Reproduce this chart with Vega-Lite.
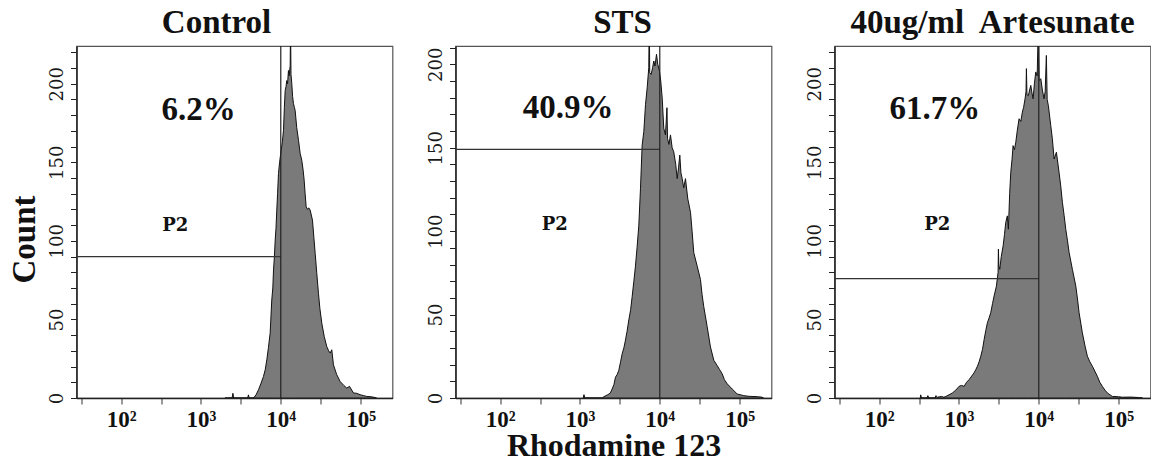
{
  "$schema": "https://vega.github.io/schema/vega-lite/v6.json",
  "padding": {"left": 6.5, "top": 6, "right": 0, "bottom": 0},
  "background": "white",
  "datasets": {
    "hist": [
      {"panel": "Control", "log_intensity": 3.30, "count": 0},
      {"panel": "Control", "log_intensity": 3.39, "count": 0},
      {"panel": "Control", "log_intensity": 3.40, "count": 3},
      {"panel": "Control", "log_intensity": 3.41, "count": 0},
      {"panel": "Control", "log_intensity": 3.585, "count": 0},
      {"panel": "Control", "log_intensity": 3.595, "count": 2},
      {"panel": "Control", "log_intensity": 3.605, "count": 0},
      {"panel": "Control", "log_intensity": 3.658, "count": 0},
      {"panel": "Control", "log_intensity": 3.69, "count": 2},
      {"panel": "Control", "log_intensity": 3.721, "count": 5.3},
      {"panel": "Control", "log_intensity": 3.75, "count": 9},
      {"panel": "Control", "log_intensity": 3.783, "count": 13.7},
      {"panel": "Control", "log_intensity": 3.805, "count": 18},
      {"panel": "Control", "log_intensity": 3.825, "count": 24.3},
      {"panel": "Control", "log_intensity": 3.845, "count": 32},
      {"panel": "Control", "log_intensity": 3.867, "count": 41.3},
      {"panel": "Control", "log_intensity": 3.887, "count": 62.4},
      {"panel": "Control", "log_intensity": 3.9, "count": 70},
      {"panel": "Control", "log_intensity": 3.909, "count": 81.5},
      {"panel": "Control", "log_intensity": 3.92, "count": 90},
      {"panel": "Control", "log_intensity": 3.93, "count": 100.5},
      {"panel": "Control", "log_intensity": 3.94, "count": 108},
      {"panel": "Control", "log_intensity": 3.95, "count": 119.6},
      {"panel": "Control", "log_intensity": 3.96, "count": 130},
      {"panel": "Control", "log_intensity": 3.971, "count": 142.9},
      {"panel": "Control", "log_intensity": 3.985, "count": 150},
      {"panel": "Control", "log_intensity": 4.005, "count": 157.7},
      {"panel": "Control", "log_intensity": 4.02, "count": 163},
      {"panel": "Control", "log_intensity": 4.034, "count": 170.3},
      {"panel": "Control", "log_intensity": 4.045, "count": 185},
      {"panel": "Control", "log_intensity": 4.055, "count": 195.7},
      {"panel": "Control", "log_intensity": 4.065, "count": 198},
      {"panel": "Control", "log_intensity": 4.075, "count": 202},
      {"panel": "Control", "log_intensity": 4.085, "count": 200},
      {"panel": "Control", "log_intensity": 4.096, "count": 208.4},
      {"panel": "Control", "log_intensity": 4.105, "count": 205},
      {"panel": "Control", "log_intensity": 4.118, "count": 211.6},
      {"panel": "Control", "log_intensity": 4.122, "count": 240},
      {"panel": "Control", "log_intensity": 4.128, "count": 206},
      {"panel": "Control", "log_intensity": 4.138, "count": 200},
      {"panel": "Control", "log_intensity": 4.148, "count": 192},
      {"panel": "Control", "log_intensity": 4.159, "count": 187.3},
      {"panel": "Control", "log_intensity": 4.17, "count": 185},
      {"panel": "Control", "log_intensity": 4.18, "count": 183},
      {"panel": "Control", "log_intensity": 4.2, "count": 172},
      {"panel": "Control", "log_intensity": 4.222, "count": 164},
      {"panel": "Control", "log_intensity": 4.243, "count": 155.6},
      {"panel": "Control", "log_intensity": 4.263, "count": 151.3},
      {"panel": "Control", "log_intensity": 4.28, "count": 145},
      {"panel": "Control", "log_intensity": 4.293, "count": 138.6},
      {"panel": "Control", "log_intensity": 4.305, "count": 130},
      {"panel": "Control", "log_intensity": 4.318, "count": 121.7},
      {"panel": "Control", "log_intensity": 4.335, "count": 120},
      {"panel": "Control", "log_intensity": 4.35, "count": 121},
      {"panel": "Control", "log_intensity": 4.368, "count": 119.6},
      {"panel": "Control", "log_intensity": 4.397, "count": 113.2},
      {"panel": "Control", "log_intensity": 4.415, "count": 102},
      {"panel": "Control", "log_intensity": 4.431, "count": 92},
      {"panel": "Control", "log_intensity": 4.45, "count": 80},
      {"panel": "Control", "log_intensity": 4.472, "count": 66.7},
      {"panel": "Control", "log_intensity": 4.49, "count": 57},
      {"panel": "Control", "log_intensity": 4.514, "count": 47.6},
      {"panel": "Control", "log_intensity": 4.545, "count": 39},
      {"panel": "Control", "log_intensity": 4.576, "count": 32.8},
      {"panel": "Control", "log_intensity": 4.6, "count": 30},
      {"panel": "Control", "log_intensity": 4.619, "count": 28.6},
      {"panel": "Control", "log_intensity": 4.639, "count": 30.7},
      {"panel": "Control", "log_intensity": 4.66, "count": 21.1},
      {"panel": "Control", "log_intensity": 4.7, "count": 15},
      {"panel": "Control", "log_intensity": 4.744, "count": 10.5},
      {"panel": "Control", "log_intensity": 4.79, "count": 8},
      {"panel": "Control", "log_intensity": 4.827, "count": 6.3},
      {"panel": "Control", "log_intensity": 4.861, "count": 7.4},
      {"panel": "Control", "log_intensity": 4.911, "count": 3.2},
      {"panel": "Control", "log_intensity": 4.95, "count": 3},
      {"panel": "Control", "log_intensity": 4.995, "count": 2.1},
      {"panel": "Control", "log_intensity": 5.04, "count": 1.5},
      {"panel": "Control", "log_intensity": 5.078, "count": 1},
      {"panel": "Control", "log_intensity": 5.13, "count": 0.8},
      {"panel": "Control", "log_intensity": 5.183, "count": 0.3},
      {"panel": "Control", "log_intensity": 5.2, "count": 0},

      {"panel": "STS", "log_intensity": 3.04, "count": 0},
      {"panel": "STS", "log_intensity": 3.05, "count": 2},
      {"panel": "STS", "log_intensity": 3.06, "count": 0},
      {"panel": "STS", "log_intensity": 3.278, "count": 0},
      {"panel": "STS", "log_intensity": 3.3, "count": 0.8},
      {"panel": "STS", "log_intensity": 3.35, "count": 2},
      {"panel": "STS", "log_intensity": 3.38, "count": 3},
      {"panel": "STS", "log_intensity": 3.403, "count": 5.4},
      {"panel": "STS", "log_intensity": 3.425, "count": 8},
      {"panel": "STS", "log_intensity": 3.445, "count": 12.5},
      {"panel": "STS", "log_intensity": 3.465, "count": 14},
      {"panel": "STS", "log_intensity": 3.486, "count": 16.5},
      {"panel": "STS", "log_intensity": 3.51, "count": 22},
      {"panel": "STS", "log_intensity": 3.529, "count": 26.6},
      {"panel": "STS", "log_intensity": 3.55, "count": 30},
      {"panel": "STS", "log_intensity": 3.57, "count": 34.7},
      {"panel": "STS", "log_intensity": 3.59, "count": 40},
      {"panel": "STS", "log_intensity": 3.612, "count": 46.8},
      {"panel": "STS", "log_intensity": 3.635, "count": 53},
      {"panel": "STS", "log_intensity": 3.654, "count": 60.9},
      {"panel": "STS", "log_intensity": 3.675, "count": 70},
      {"panel": "STS", "log_intensity": 3.695, "count": 79},
      {"panel": "STS", "log_intensity": 3.715, "count": 90},
      {"panel": "STS", "log_intensity": 3.737, "count": 103.2},
      {"panel": "STS", "log_intensity": 3.758, "count": 125.4},
      {"panel": "STS", "log_intensity": 3.779, "count": 151.6},
      {"panel": "STS", "log_intensity": 3.8, "count": 159.7},
      {"panel": "STS", "log_intensity": 3.821, "count": 175.8},
      {"panel": "STS", "log_intensity": 3.842, "count": 185.9},
      {"panel": "STS", "log_intensity": 3.862, "count": 198},
      {"panel": "STS", "log_intensity": 3.868, "count": 228},
      {"panel": "STS", "log_intensity": 3.874, "count": 195},
      {"panel": "STS", "log_intensity": 3.892, "count": 194},
      {"panel": "STS", "log_intensity": 3.91, "count": 198},
      {"panel": "STS", "log_intensity": 3.925, "count": 202},
      {"panel": "STS", "log_intensity": 3.94, "count": 199},
      {"panel": "STS", "log_intensity": 3.959, "count": 206},
      {"panel": "STS", "log_intensity": 3.975, "count": 200},
      {"panel": "STS", "log_intensity": 3.996, "count": 196},
      {"panel": "STS", "log_intensity": 4.012, "count": 190},
      {"panel": "STS", "log_intensity": 4.03, "count": 179.9},
      {"panel": "STS", "log_intensity": 4.05, "count": 161.7},
      {"panel": "STS", "log_intensity": 4.071, "count": 157.7},
      {"panel": "STS", "log_intensity": 4.09, "count": 174},
      {"panel": "STS", "log_intensity": 4.097, "count": 155.6},
      {"panel": "STS", "log_intensity": 4.115, "count": 152},
      {"panel": "STS", "log_intensity": 4.134, "count": 157.7},
      {"panel": "STS", "log_intensity": 4.155, "count": 150},
      {"panel": "STS", "log_intensity": 4.175, "count": 147.6},
      {"panel": "STS", "log_intensity": 4.2, "count": 140},
      {"panel": "STS", "log_intensity": 4.218, "count": 131.5},
      {"panel": "STS", "log_intensity": 4.235, "count": 138},
      {"panel": "STS", "log_intensity": 4.251, "count": 145.6},
      {"panel": "STS", "log_intensity": 4.265, "count": 135},
      {"panel": "STS", "log_intensity": 4.281, "count": 131.5},
      {"panel": "STS", "log_intensity": 4.3, "count": 126},
      {"panel": "STS", "log_intensity": 4.322, "count": 131.5},
      {"panel": "STS", "log_intensity": 4.351, "count": 119.4},
      {"panel": "STS", "log_intensity": 4.385, "count": 111.3},
      {"panel": "STS", "log_intensity": 4.405, "count": 100},
      {"panel": "STS", "log_intensity": 4.426, "count": 87.1},
      {"panel": "STS", "log_intensity": 4.469, "count": 79},
      {"panel": "STS", "log_intensity": 4.51, "count": 71},
      {"panel": "STS", "log_intensity": 4.53, "count": 62},
      {"panel": "STS", "log_intensity": 4.551, "count": 54.8},
      {"panel": "STS", "log_intensity": 4.594, "count": 42.7},
      {"panel": "STS", "log_intensity": 4.635, "count": 30.6},
      {"panel": "STS", "log_intensity": 4.677, "count": 22.6},
      {"panel": "STS", "log_intensity": 4.719, "count": 19.5},
      {"panel": "STS", "log_intensity": 4.75, "count": 17},
      {"panel": "STS", "log_intensity": 4.782, "count": 14.5},
      {"panel": "STS", "log_intensity": 4.81, "count": 11},
      {"panel": "STS", "log_intensity": 4.845, "count": 8.5},
      {"panel": "STS", "log_intensity": 4.907, "count": 5.4},
      {"panel": "STS", "log_intensity": 4.97, "count": 2.4},
      {"panel": "STS", "log_intensity": 5.053, "count": 1.4},
      {"panel": "STS", "log_intensity": 5.12, "count": 1},
      {"panel": "STS", "log_intensity": 5.22, "count": 0.8},
      {"panel": "STS", "log_intensity": 5.28, "count": 0.5},
      {"panel": "STS", "log_intensity": 5.3, "count": 0},

      {"panel": "Artesunate", "log_intensity": 2.515, "count": 0},
      {"panel": "Artesunate", "log_intensity": 2.52, "count": 2},
      {"panel": "Artesunate", "log_intensity": 2.53, "count": 0},
      {"panel": "Artesunate", "log_intensity": 2.6, "count": 0},
      {"panel": "Artesunate", "log_intensity": 2.61, "count": 1.5},
      {"panel": "Artesunate", "log_intensity": 2.62, "count": 0},
      {"panel": "Artesunate", "log_intensity": 2.7, "count": 0},
      {"panel": "Artesunate", "log_intensity": 2.71, "count": 1.5},
      {"panel": "Artesunate", "log_intensity": 2.73, "count": 0.5},
      {"panel": "Artesunate", "log_intensity": 2.78, "count": 1},
      {"panel": "Artesunate", "log_intensity": 2.81, "count": 0.5},
      {"panel": "Artesunate", "log_intensity": 2.835, "count": 1},
      {"panel": "Artesunate", "log_intensity": 2.875, "count": 2},
      {"panel": "Artesunate", "log_intensity": 2.917, "count": 3.2},
      {"panel": "Artesunate", "log_intensity": 2.96, "count": 5},
      {"panel": "Artesunate", "log_intensity": 3.001, "count": 7.4},
      {"panel": "Artesunate", "log_intensity": 3.03, "count": 8},
      {"panel": "Artesunate", "log_intensity": 3.064, "count": 7.4},
      {"panel": "Artesunate", "log_intensity": 3.095, "count": 10},
      {"panel": "Artesunate", "log_intensity": 3.127, "count": 11.7},
      {"panel": "Artesunate", "log_intensity": 3.16, "count": 14},
      {"panel": "Artesunate", "log_intensity": 3.189, "count": 16},
      {"panel": "Artesunate", "log_intensity": 3.21, "count": 18},
      {"panel": "Artesunate", "log_intensity": 3.231, "count": 20.2},
      {"panel": "Artesunate", "log_intensity": 3.252, "count": 23},
      {"panel": "Artesunate", "log_intensity": 3.273, "count": 26.6},
      {"panel": "Artesunate", "log_intensity": 3.295, "count": 31},
      {"panel": "Artesunate", "log_intensity": 3.315, "count": 37.2},
      {"panel": "Artesunate", "log_intensity": 3.336, "count": 43},
      {"panel": "Artesunate", "log_intensity": 3.356, "count": 47.9},
      {"panel": "Artesunate", "log_intensity": 3.378, "count": 51},
      {"panel": "Artesunate", "log_intensity": 3.398, "count": 54.3},
      {"panel": "Artesunate", "log_intensity": 3.42, "count": 60},
      {"panel": "Artesunate", "log_intensity": 3.44, "count": 64.9},
      {"panel": "Artesunate", "log_intensity": 3.469, "count": 71.2},
      {"panel": "Artesunate", "log_intensity": 3.49, "count": 80},
      {"panel": "Artesunate", "log_intensity": 3.494, "count": 94.7},
      {"panel": "Artesunate", "log_intensity": 3.5, "count": 84},
      {"panel": "Artesunate", "log_intensity": 3.511, "count": 81.9},
      {"panel": "Artesunate", "log_intensity": 3.53, "count": 90},
      {"panel": "Artesunate", "log_intensity": 3.553, "count": 96.8},
      {"panel": "Artesunate", "log_intensity": 3.57, "count": 104},
      {"panel": "Artesunate", "log_intensity": 3.586, "count": 111.7},
      {"panel": "Artesunate", "log_intensity": 3.606, "count": 115.9},
      {"panel": "Artesunate", "log_intensity": 3.619, "count": 107.4},
      {"panel": "Artesunate", "log_intensity": 3.635, "count": 130},
      {"panel": "Artesunate", "log_intensity": 3.649, "count": 143.6},
      {"panel": "Artesunate", "log_intensity": 3.665, "count": 152},
      {"panel": "Artesunate", "log_intensity": 3.678, "count": 160.6},
      {"panel": "Artesunate", "log_intensity": 3.695, "count": 158},
      {"panel": "Artesunate", "log_intensity": 3.712, "count": 162.8},
      {"panel": "Artesunate", "log_intensity": 3.73, "count": 170},
      {"panel": "Artesunate", "log_intensity": 3.753, "count": 177.7},
      {"panel": "Artesunate", "log_intensity": 3.775, "count": 176},
      {"panel": "Artesunate", "log_intensity": 3.794, "count": 181.9},
      {"panel": "Artesunate", "log_intensity": 3.81, "count": 185},
      {"panel": "Artesunate", "log_intensity": 3.828, "count": 190.4},
      {"panel": "Artesunate", "log_intensity": 3.84, "count": 195},
      {"panel": "Artesunate", "log_intensity": 3.845, "count": 209.6},
      {"panel": "Artesunate", "log_intensity": 3.852, "count": 193},
      {"panel": "Artesunate", "log_intensity": 3.87, "count": 192.5},
      {"panel": "Artesunate", "log_intensity": 3.885, "count": 196},
      {"panel": "Artesunate", "log_intensity": 3.9, "count": 198.9},
      {"panel": "Artesunate", "log_intensity": 3.915, "count": 194},
      {"panel": "Artesunate", "log_intensity": 3.929, "count": 190.4},
      {"panel": "Artesunate", "log_intensity": 3.945, "count": 200},
      {"panel": "Artesunate", "log_intensity": 3.962, "count": 207.5},
      {"panel": "Artesunate", "log_intensity": 3.98, "count": 205},
      {"panel": "Artesunate", "log_intensity": 3.995, "count": 240},
      {"panel": "Artesunate", "log_intensity": 4.005, "count": 202},
      {"panel": "Artesunate", "log_intensity": 4.025, "count": 203.2},
      {"panel": "Artesunate", "log_intensity": 4.045, "count": 196},
      {"panel": "Artesunate", "log_intensity": 4.066, "count": 190.4},
      {"panel": "Artesunate", "log_intensity": 4.08, "count": 195},
      {"panel": "Artesunate", "log_intensity": 4.095, "count": 218},
      {"panel": "Artesunate", "log_intensity": 4.105, "count": 190},
      {"panel": "Artesunate", "log_intensity": 4.12, "count": 186.1},
      {"panel": "Artesunate", "log_intensity": 4.15, "count": 173.4},
      {"panel": "Artesunate", "log_intensity": 4.17, "count": 165},
      {"panel": "Artesunate", "log_intensity": 4.192, "count": 152.1},
      {"panel": "Artesunate", "log_intensity": 4.221, "count": 156.4},
      {"panel": "Artesunate", "log_intensity": 4.254, "count": 143.6},
      {"panel": "Artesunate", "log_intensity": 4.275, "count": 135},
      {"panel": "Artesunate", "log_intensity": 4.296, "count": 124.5},
      {"panel": "Artesunate", "log_intensity": 4.318, "count": 116},
      {"panel": "Artesunate", "log_intensity": 4.338, "count": 107.4},
      {"panel": "Artesunate", "log_intensity": 4.36, "count": 100},
      {"panel": "Artesunate", "log_intensity": 4.38, "count": 92.6},
      {"panel": "Artesunate", "log_intensity": 4.421, "count": 81.9},
      {"panel": "Artesunate", "log_intensity": 4.464, "count": 71.2},
      {"panel": "Artesunate", "log_intensity": 4.485, "count": 63},
      {"panel": "Artesunate", "log_intensity": 4.505, "count": 54.3},
      {"panel": "Artesunate", "log_intensity": 4.546, "count": 41.5},
      {"panel": "Artesunate", "log_intensity": 4.58, "count": 33},
      {"panel": "Artesunate", "log_intensity": 4.609, "count": 26.6},
      {"panel": "Artesunate", "log_intensity": 4.64, "count": 23},
      {"panel": "Artesunate", "log_intensity": 4.672, "count": 20.2},
      {"panel": "Artesunate", "log_intensity": 4.734, "count": 13.8},
      {"panel": "Artesunate", "log_intensity": 4.765, "count": 10},
      {"panel": "Artesunate", "log_intensity": 4.797, "count": 7.4},
      {"panel": "Artesunate", "log_intensity": 4.83, "count": 5},
      {"panel": "Artesunate", "log_intensity": 4.86, "count": 3.2},
      {"panel": "Artesunate", "log_intensity": 4.922, "count": 1},
      {"panel": "Artesunate", "log_intensity": 5.0, "count": 0.8},
      {"panel": "Artesunate", "log_intensity": 5.05, "count": 0.5},
      {"panel": "Artesunate", "log_intensity": 5.15, "count": 0.6},
      {"panel": "Artesunate", "log_intensity": 5.25, "count": 0.3},
      {"panel": "Artesunate", "log_intensity": 5.3, "count": 0}
    ],
    "gates": [
      {"panel": "Control", "log_intensity": 0, "gate_end": 4, "count": 90, "marker": 4},
      {"panel": "STS", "log_intensity": 0, "gate_end": 4, "count": 149, "marker": 4},
      {"panel": "Artesunate", "log_intensity": 0, "gate_end": 4, "count": 76, "marker": 4}
    ],
    "labels": [
      {"panel": "Control", "kind": "pct", "text": "6.2%", "log_intensity": 2.969, "count": 176.7},
      {"panel": "STS", "kind": "pct", "text": "40.9%", "log_intensity": 2.85, "count": 167.8},
      {"panel": "Artesunate", "kind": "pct", "text": "61.7%", "log_intensity": 2.698, "count": 177.7},
      {"panel": "Control", "kind": "gate", "text": "P2", "log_intensity": 2.677, "count": 106.4},
      {"panel": "STS", "kind": "gate", "text": "P2", "log_intensity": 2.683, "count": 100.8},
      {"panel": "Artesunate", "kind": "gate", "text": "P2", "log_intensity": 2.729, "count": 107}
    ]
  },
  "spacing": 63,
  "bounds": "flush",
  "hconcat": [
    {
      "width": 316,
      "height": 352,
      "title": {"text": "Control", "dx": -18},
      "resolve": {"axis": {"y": "independent"}},
      "layer": [
        {
          "data": {"name": "hist"},
          "transform": [{"filter": "datum.panel == 'Control'"}],
          "mark": {"type": "area", "clip": true, "color": "#7a7a7a", "stroke": "#111", "strokeWidth": 1},
          "encoding": {
            "x": {"field": "log_intensity", "type": "quantitative", "scale": {"domain": [1.44, 5.4], "nice": false, "zero": false}, "axis": {"title": null}},
            "y": {"field": "count", "type": "quantitative", "scale": {"domain": [0, 224], "nice": false}, "axis": {"title": "Count", "values": [0, 50, 100, 150, 200], "titleX": -42.5, "titleY": 193}}
          }
        },
        {
          "data": {"name": "gates"},
          "transform": [{"filter": "datum.panel == 'Control'"}],
          "mark": {"type": "rule", "clip": true, "color": "#333", "strokeWidth": 1.2},
          "encoding": {"x": {"field": "log_intensity", "type": "quantitative"}, "x2": {"field": "gate_end"}, "y": {"field": "count", "type": "quantitative", "axis": {"title": null, "orient": "left", "labels": false, "domain": false, "values": [0,10,20,30,40,50,60,70,80,90,100,110,120,130,140,150,160,170,180,190,200,210,220]}}}
        },
        {
          "data": {"name": "gates"},
          "transform": [{"filter": "datum.panel == 'Control'"}],
          "mark": {"type": "rule", "color": "#222", "strokeWidth": 1.2},
          "encoding": {"x": {"field": "marker", "type": "quantitative"}}
        },
        {
          "data": {"name": "labels"},
          "transform": [{"filter": "datum.panel == 'Control' && datum.kind == 'pct'"}],
          "mark": {"type": "text", "font": "Liberation Serif", "fontWeight": "bold", "fontSize": 33, "baseline": "alphabetic", "align": "center", "color": "#111"},
          "encoding": {"x": {"field": "log_intensity", "type": "quantitative"}, "y": {"field": "count", "type": "quantitative", "axis": null}, "text": {"field": "text"}}
        },
        {
          "data": {"name": "labels"},
          "transform": [{"filter": "datum.panel == 'Control' && datum.kind == 'gate'"}],
          "mark": {"type": "text", "font": "DejaVu Serif", "fontWeight": "bold", "fontSize": 18, "baseline": "alphabetic", "align": "center", "color": "#111"},
          "encoding": {"x": {"field": "log_intensity", "type": "quantitative"}, "y": {"field": "count", "type": "quantitative", "axis": null}, "text": {"field": "text"}}
        }
      ]
    },
    {
      "width": 316,
      "height": 352,
      "title": {"text": "STS", "dx": 9},
      "resolve": {"axis": {"y": "independent"}},
      "layer": [
        {
          "data": {"name": "hist"},
          "transform": [{"filter": "datum.panel == 'STS'"}],
          "mark": {"type": "area", "clip": true, "color": "#7a7a7a", "stroke": "#111", "strokeWidth": 1},
          "encoding": {
            "x": {"field": "log_intensity", "type": "quantitative", "scale": {"domain": [1.44, 5.4], "nice": false, "zero": false}, "axis": {"title": "Rhodamine 123", "titleY": 57, "titleBaseline": "alphabetic"}},
            "y": {"field": "count", "type": "quantitative", "scale": {"domain": [0, 211], "nice": false}, "axis": {"title": null, "values": [0, 50, 100, 150, 200]}}
          }
        },
        {
          "data": {"name": "gates"},
          "transform": [{"filter": "datum.panel == 'STS'"}],
          "mark": {"type": "rule", "clip": true, "color": "#333", "strokeWidth": 1.2},
          "encoding": {"x": {"field": "log_intensity", "type": "quantitative"}, "x2": {"field": "gate_end"}, "y": {"field": "count", "type": "quantitative", "axis": {"title": null, "orient": "left", "labels": false, "domain": false, "values": [0,10,20,30,40,50,60,70,80,90,100,110,120,130,140,150,160,170,180,190,200,210]}}}
        },
        {
          "data": {"name": "gates"},
          "transform": [{"filter": "datum.panel == 'STS'"}],
          "mark": {"type": "rule", "color": "#222", "strokeWidth": 1.2},
          "encoding": {"x": {"field": "marker", "type": "quantitative"}}
        },
        {
          "data": {"name": "labels"},
          "transform": [{"filter": "datum.panel == 'STS' && datum.kind == 'pct'"}],
          "mark": {"type": "text", "font": "Liberation Serif", "fontWeight": "bold", "fontSize": 33, "baseline": "alphabetic", "align": "center", "color": "#111"},
          "encoding": {"x": {"field": "log_intensity", "type": "quantitative"}, "y": {"field": "count", "type": "quantitative", "axis": null}, "text": {"field": "text"}}
        },
        {
          "data": {"name": "labels"},
          "transform": [{"filter": "datum.panel == 'STS' && datum.kind == 'gate'"}],
          "mark": {"type": "text", "font": "DejaVu Serif", "fontWeight": "bold", "fontSize": 18, "baseline": "alphabetic", "align": "center", "color": "#111"},
          "encoding": {"x": {"field": "log_intensity", "type": "quantitative"}, "y": {"field": "count", "type": "quantitative", "axis": null}, "text": {"field": "text"}}
        }
      ]
    },
    {
      "width": 316,
      "height": 352,
      "title": {"text": "40ug/ml\u00a0 Artesunate", "dx": 0},
      "resolve": {"axis": {"y": "independent"}},
      "layer": [
        {
          "data": {"name": "hist"},
          "transform": [{"filter": "datum.panel == 'Artesunate'"}],
          "mark": {"type": "area", "clip": true, "color": "#7a7a7a", "stroke": "#111", "strokeWidth": 1},
          "encoding": {
            "x": {"field": "log_intensity", "type": "quantitative", "scale": {"domain": [1.44, 5.4], "nice": false, "zero": false}, "axis": {"title": null}},
            "y": {"field": "count", "type": "quantitative", "scale": {"domain": [0, 224], "nice": false}, "axis": {"title": null, "values": [0, 50, 100, 150, 200]}}
          }
        },
        {
          "data": {"name": "gates"},
          "transform": [{"filter": "datum.panel == 'Artesunate'"}],
          "mark": {"type": "rule", "clip": true, "color": "#333", "strokeWidth": 1.2},
          "encoding": {"x": {"field": "log_intensity", "type": "quantitative"}, "x2": {"field": "gate_end"}, "y": {"field": "count", "type": "quantitative", "axis": {"title": null, "orient": "left", "labels": false, "domain": false, "values": [0,10,20,30,40,50,60,70,80,90,100,110,120,130,140,150,160,170,180,190,200,210,220]}}}
        },
        {
          "data": {"name": "gates"},
          "transform": [{"filter": "datum.panel == 'Artesunate'"}],
          "mark": {"type": "rule", "color": "#222", "strokeWidth": 1.2},
          "encoding": {"x": {"field": "marker", "type": "quantitative"}}
        },
        {
          "data": {"name": "labels"},
          "transform": [{"filter": "datum.panel == 'Artesunate' && datum.kind == 'pct'"}],
          "mark": {"type": "text", "font": "Liberation Serif", "fontWeight": "bold", "fontSize": 33, "baseline": "alphabetic", "align": "center", "color": "#111"},
          "encoding": {"x": {"field": "log_intensity", "type": "quantitative"}, "y": {"field": "count", "type": "quantitative", "axis": null}, "text": {"field": "text"}}
        },
        {
          "data": {"name": "labels"},
          "transform": [{"filter": "datum.panel == 'Artesunate' && datum.kind == 'gate'"}],
          "mark": {"type": "text", "font": "DejaVu Serif", "fontWeight": "bold", "fontSize": 18, "baseline": "alphabetic", "align": "center", "color": "#111"},
          "encoding": {"x": {"field": "log_intensity", "type": "quantitative"}, "y": {"field": "count", "type": "quantitative", "axis": null}, "text": {"field": "text"}}
        }
      ]
    }
  ],
  "config": {
    "view": {"stroke": "#555", "strokeWidth": 1.2},
    "title": {"font": "Liberation Serif", "fontSize": 33, "fontWeight": "bold", "color": "#111", "baseline": "alphabetic", "offset": 5, "anchor": "middle"},
    "axisX": {
      "values": [1.4771, 1.6021, 1.699, 1.7782, 1.8451, 1.9031, 1.9542, 2, 2.301, 2.4771, 2.6021, 2.699, 2.7782, 2.8451, 2.9031, 2.9542, 3, 3.301, 3.4771, 3.6021, 3.699, 3.7782, 3.8451, 3.9031, 3.9542, 4, 4.301, 4.4771, 4.6021, 4.699, 4.7782, 4.8451, 4.9031, 4.9542, 5, 5.301],
      "labelExpr": "datum.value == 2 ? '10²' : datum.value == 3 ? '10³' : datum.value == 4 ? '10⁴' : datum.value == 5 ? '10⁵' : ''",
      "labelFont": "Liberation Serif",
      "labelFontWeight": "bold",
      "labelFontSize": 23,
      "labelColor": "#111",
      "labelOverlap": false,
      "labelFlush": false,
      "labelBound": false,
      "labelPadding": 4,
      "tickSize": 6,
      "tickColor": "#333",
      "domainColor": "#222",
      "domainWidth": 1.5,
      "grid": false,
      "titleFont": "Liberation Serif",
      "titleFontSize": 32,
      "titleFontWeight": "bold",
      "titleColor": "#111",
      "titlePadding": 0
    },
    "axisY": {
      "labelAngle": -90,
      "labelAlign": "center",
      "labelBaseline": "bottom",
      "labelFont": "DejaVu Serif",
      "labelFontSize": 18,
      "labelColor": "#1a1a1a",
      "labelOverlap": false,
      "labelPadding": 4,
      "tickSize": 6,
      "tickColor": "#222",
      "domainColor": "#222",
      "domainWidth": 1.5,
      "grid": false,
      "titleFont": "Liberation Serif",
      "titleFontSize": 33,
      "titleFontWeight": "bold",
      "titleColor": "#111",
      "titleAngle": -90,
      "titleBaseline": "alphabetic",
      "titleAlign": "center"
    }
  }
}
